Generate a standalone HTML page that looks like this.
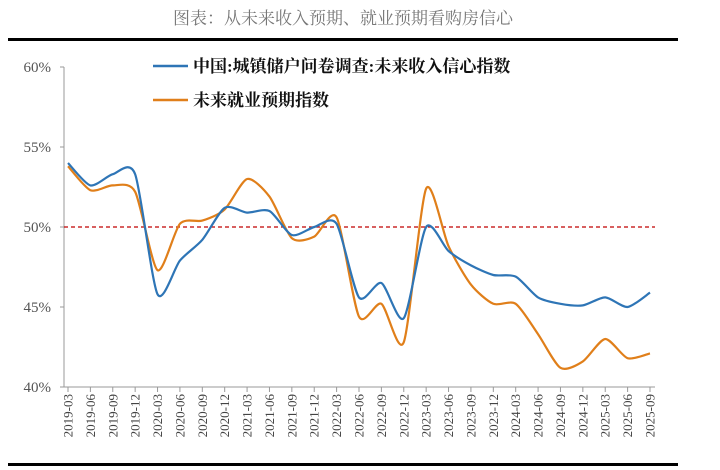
<!DOCTYPE html>
<html><head><meta charset="utf-8"><style>
body{margin:0;background:#fff;width:720px;height:470px;overflow:hidden}
svg{display:block}
</style></head><body>
<svg width="720" height="470">
<text x="343" y="24" text-anchor="middle" font-family="'Liberation Serif','Noto Serif CJK SC',serif" font-size="17" fill="#777">图表：从未来收入预期、就业预期看购房信心</text>
<rect x="8" y="38" width="670" height="3" fill="#000"/>
<rect x="8" y="463" width="670" height="3" fill="#000"/>
<g id="axes"></g>
<g id="series"></g>
<g>
<line x1="153" y1="66" x2="188" y2="66" stroke="#2e75b6" stroke-width="2.5"/>
<text x="193" y="72" font-family="'Liberation Serif','Noto Serif CJK SC',serif" font-weight="bold" font-size="17" fill="#111">中国:城镇储户问卷调查:未来收入信心指数</text>
<line x1="153" y1="100" x2="188" y2="100" stroke="#e07f1a" stroke-width="2.5"/>
<text x="193" y="106" font-family="'Liberation Serif','Noto Serif CJK SC',serif" font-weight="bold" font-size="17" fill="#111">未来就业预期指数</text>
</g>
</svg>
<script>
const categories=["2019-03","2019-06","2019-09","2019-12","2020-03","2020-06","2020-09","2020-12","2021-03","2021-06","2021-09","2021-12","2022-03","2022-06","2022-09","2022-12","2023-03","2023-06","2023-09","2023-12","2024-03","2024-06","2024-09","2024-12","2025-03","2025-06","2025-09"];
const incomeValues=[54.0,52.6,53.3,53.3,45.8,47.9,49.2,51.2,50.9,51.0,49.5,50.0,50.2,45.6,46.5,44.3,50.0,48.5,47.6,47.0,46.9,45.6,45.2,45.1,45.6,45.0,45.9];
const employmentValues=[53.8,52.3,52.6,52.2,47.3,50.2,50.4,51.1,53.0,51.9,49.3,49.4,50.6,44.4,45.2,42.8,52.4,48.8,46.4,45.2,45.2,43.3,41.2,41.6,43.0,41.8,42.1];
const yTicks=[40,45,50,55,60];
const yTickLabels=["40%","45%","50%","55%","60%"];
const refValue=50;
const NS="http://www.w3.org/2000/svg";
const X0=68,X1=650,Y0=387,Y1=67,VMIN=40,VMAX=60;
const xs=i=>X0+(X1-X0)*i/(categories.length-1);
const ys=v=>Y0-(v-VMIN)/(VMAX-VMIN)*(Y0-Y1);
function mk(tag,attrs,parent){const e=document.createElementNS(NS,tag);for(const k in attrs)e.setAttribute(k,attrs[k]);parent.appendChild(e);return e;}
const ax=document.getElementById('axes');
let l=mk('line',{x1:64,y1:Y1,x2:64,y2:Y0,stroke:'#999','stroke-width':1},ax);


l=mk('line',{x1:64,y1:Y0,x2:655,y2:Y0,stroke:'#999','stroke-width':1},ax);


yTicks.forEach((v,i)=>{
 const t=mk('line',{x1:60,y1:ys(v),x2:64,y2:ys(v),stroke:'#999'},ax);
 
 
 const tx=mk('text',{x:51,y:ys(v)+5,'text-anchor':'end','font-family':"'Liberation Serif',serif",'font-size':15,fill:'#555'},ax);
 tx.textContent=yTickLabels[i];
 
 
});
categories.forEach((c,i)=>{
 const x=xs(i);
 const t=mk('line',{x1:x,y1:Y0,x2:x,y2:Y0+5,stroke:'#999'},ax);
 
 
 const tx=mk('text',{x:0,y:0,'text-anchor':'end','font-family':"'Liberation Serif',serif",'font-size':13,fill:'#444',transform:`translate(${x+4.5},${Y0+7}) rotate(-90)`},ax);
 tx.textContent=c;
 
 
});
const ref=mk('line',{x1:64,y1:ys(refValue),x2:655,y2:ys(refValue),stroke:'#c00000','stroke-width':1.3,'stroke-dasharray':'4,3'},ax);


function smooth(vals){
 const p=vals.map((v,i)=>[xs(i),ys(v)]);
 const k=8;
 let d=`M${p[0][0]},${p[0][1]}`;
 for(let i=0;i<p.length-1;i++){
  const a=p[i-1]||p[i],b=p[i],c=p[i+1],e=p[i+2]||c;
  d+=` C${b[0]+(c[0]-a[0])/k},${b[1]+(c[1]-a[1])/k} ${c[0]-(e[0]-b[0])/k},${c[1]-(e[1]-b[1])/k} ${c[0]},${c[1]}`;
 }
 return d;
}
const sg=document.getElementById('series');
const s2=mk('path',{d:smooth(employmentValues),fill:'none',stroke:'#e07f1a','stroke-width':2.2},sg);


const s1=mk('path',{d:smooth(incomeValues),fill:'none',stroke:'#2e75b6','stroke-width':2.2},sg);


</script>
</body></html>
